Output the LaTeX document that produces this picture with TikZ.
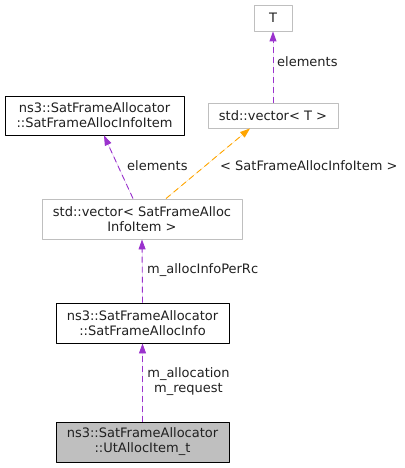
\documentclass[tikz,border=0pt]{standalone}
\usepackage{fontspec}
\setmainfont{DejaVu Sans}
\usetikzlibrary{arrows.meta}
\definecolor{purp}{HTML}{9A32CD}
\definecolor{orng}{HTML}{FFA500}
\definecolor{gline}{HTML}{BFBFBF}
\definecolor{txt}{HTML}{202020}
\begin{document}
\begin{tikzpicture}[x=1pt, y=-1pt, line join=round, >={Triangle[length=10pt,width=7pt]}, font=\fontsize{13}{15}\selectfont]
	\tikzset{box/.style={draw=black, fill=white, line width=0.9pt, text=txt, align=center, inner sep=0pt},
		gbox/.style={box, draw=gline},
		cbox/.style={box, fill=gline},
		pedge/.style={->, draw=purp, fill=purp, dash pattern=on 6pt off 4pt, line width=0.9pt},
		oedge/.style={pedge, draw=orng, fill=orng},
		lbl/.style={text=txt, align=center, inner sep=0pt}}
	\useasboundingbox (0,0) rectangle (404,468);
	%Các lớp
	\node[gbox, minimum width=38pt, minimum height=26pt] (T) at (273,18) {T};
	\node[gbox, minimum width=130pt, minimum height=25pt] (vecT) at (273,115.5) {std::vector< T >};
	\node[box, minimum width=179pt, minimum height=39pt] (infoItem) at (94.5,115.5) {ns3::SatFrameAllocator\\::SatFrameAllocInfoItem};
	\node[gbox, minimum width=200pt, minimum height=40pt] (vecItem) at (142,219) {std::vector< SatFrameAlloc\\InfoItem >};
	\node[box, minimum width=173pt, minimum height=40pt] (info) at (142.5,323) {ns3::SatFrameAllocator\\::SatFrameAllocInfo};
	\node[cbox, minimum width=173pt, minimum height=40pt] (utItem) at (142.5,442) {ns3::SatFrameAllocator\\::UtAllocItem\_t};
	%Các cạnh
	\draw[pedge] (vecT.north) -- (T.south);
	\draw[pedge] ([xshift=-9pt]vecItem.north) -- ([xshift=9.5pt]infoItem.south);
	\draw[oedge] ([xshift=24pt]vecItem.north) -- ([xshift=-23pt]vecT.south);
	\draw[pedge] (info.north) -- (vecItem.south);
	\draw[pedge] (utItem.north) -- (info.south);
	%Nhãn
	\node[lbl, anchor=west] (l1) at (277,62) {elements};
	\node[lbl, anchor=west] (l2) at (127,166) {elements};
	\node[lbl, anchor=west] (l3) at (220,166) {< SatFrameAllocInfoItem >};
	\node[lbl, anchor=west] (l4) at (147,270) {m\_allocInfoPerRc};
	\node[lbl] (l5) at (188.5,382) {m\_allocation\\m\_request};
\end{tikzpicture}
\end{document}
